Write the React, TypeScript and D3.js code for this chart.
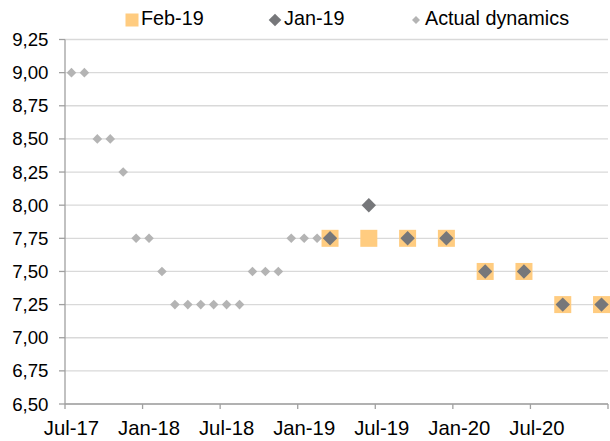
import React from "react";
import * as d3 from "d3";

const categories = [
  "Jul-17","Aug-17","Sep-17","Oct-17","Nov-17","Dec-17",
  "Jan-18","Feb-18","Mar-18","Apr-18","May-18","Jun-18",
  "Jul-18","Aug-18","Sep-18","Oct-18","Nov-18","Dec-18",
  "Jan-19","Feb-19","Mar-19","Apr-19","May-19","Jun-19",
  "Jul-19","Aug-19","Sep-19","Oct-19","Nov-19","Dec-19",
  "Jan-20","Feb-20","Mar-20","Apr-20","May-20","Jun-20",
  "Jul-20","Aug-20","Sep-20","Oct-20","Nov-20","Dec-20",
];
const xTickLabels = ["Jul-17","Jan-18","Jul-18","Jan-19","Jul-19","Jan-20","Jul-20"];

const actualMonths = [
  "Jul-17","Aug-17","Sep-17","Oct-17","Nov-17","Dec-17","Jan-18","Feb-18",
  "Mar-18","Apr-18","May-18","Jun-18","Jul-18","Aug-18","Sep-18","Oct-18",
  "Nov-18","Dec-18","Jan-19","Feb-19",
];
const actualValues = [
  9.0, 9.0, 8.5, 8.5, 8.25, 7.75, 7.75, 7.5,
  7.25, 7.25, 7.25, 7.25, 7.25, 7.25, 7.5, 7.5,
  7.5, 7.75, 7.75, 7.75,
];

const forecastMonths = ["Mar-19","Jun-19","Sep-19","Dec-19","Mar-20","Jun-20","Sep-20","Dec-20"];
const feb19Values = [7.75, 7.75, 7.75, 7.75, 7.5, 7.5, 7.25, 7.25];
const jan19Values = [7.75, 8.0, 7.75, 7.75, 7.5, 7.5, 7.25, 7.25];

const yTicks = [6.5, 6.75, 7.0, 7.25, 7.5, 7.75, 8.0, 8.25, 8.5, 8.75, 9.0, 9.25];

const W = 610, H = 441;
const left = 65, right = 608, top = 39.5, bottom = 404;
const FONT = "'Liberation Sans', Arial, sans-serif";
const C_SQ = "#FFCC80", C_DARK = "#76777A", C_LIGHT = "#B4B4B4";

const diamond = (cx: number, cy: number, r: number) =>
  `M${cx},${cy - r}L${cx + r},${cy}L${cx},${cy + r}L${cx - r},${cy}Z`;

export default function App() {
  const x = d3.scaleBand<string>().domain(categories).range([left, right]).padding(0);
  const y = d3.scaleLinear().domain([6.5, 9.25]).range([bottom, top]);
  const fmt = (v: number) => d3.format(".2f")(v).replace(".", ",");
  const cx = (m: string) => (x(m) as number) + x.bandwidth() / 2;
  const tickIdx = categories.map((_, i) => i).filter((i) => i % 6 === 0);

  return (
    <svg width={W} height={H} style={{ position: "absolute", left: 0, top: 0, background: "#fff" }} fontFamily={FONT}>
      {yTicks.map((t) => (
        <line key={"g" + t} x1={left} x2={right} y1={y(t)} y2={y(t)} stroke="#D9D9D9" strokeWidth={1.3} />
      ))}
      <line x1={left} x2={left} y1={top} y2={bottom} stroke="#A0A0A0" strokeWidth={1.3} />
      {yTicks.map((t) => (
        <g key={"y" + t}>
          <line x1={left - 6} x2={left} y1={y(t)} y2={y(t)} stroke="#A0A0A0" strokeWidth={1.3} />
          <text x={48.5} y={y(t)} dy="0.35em" textAnchor="end" fontSize={18.7} fill="#000">{fmt(t)}</text>
        </g>
      ))}
      <line x1={left} x2={right} y1={bottom} y2={bottom} stroke="#A0A0A0" strokeWidth={1.3} />
      {tickIdx.map((i) => (
        <line key={"xt" + i} x1={x(categories[i]) as number} x2={x(categories[i]) as number} y1={bottom} y2={bottom + 5} stroke="#A0A0A0" strokeWidth={1.3} />
      ))}
      <line x1={right} x2={right} y1={bottom} y2={bottom + 5} stroke="#A0A0A0" strokeWidth={1.3} />
      {xTickLabels.map((m) => (
        <text key={"xl" + m} x={cx(m)} y={435} textAnchor="middle" fontSize={20.3} fill="#000">{m}</text>
      ))}
      {forecastMonths.map((m, i) => (
        <rect key={"sq" + m} x={cx(m) - 8.5} y={y(feb19Values[i]) - 8.5} width={17} height={17} fill={C_SQ} />
      ))}
      {forecastMonths.map((m, i) => (
        <path key={"dk" + m} d={diamond(cx(m), y(jan19Values[i]), 7.2)} fill={C_DARK} />
      ))}
      {actualMonths.map((m, i) => (
        <path key={"ac" + m} d={diamond(cx(m), y(actualValues[i]), 4.8)} fill={C_LIGHT} />
      ))}
      <rect x={125.5} y={13.5} width={13} height={13} fill={C_SQ} />
      <text x={141} y={24.5} fontSize={19.8} fill="#000">Feb-19</text>
      <path d={diamond(275, 20, 6.3)} fill={C_DARK} />
      <text x={284} y={24.5} fontSize={19.8} fill="#000">Jan-19</text>
      <path d={diamond(416, 20, 4)} fill={C_LIGHT} />
      <text x={425} y={24.5} fontSize={19.8} fill="#000">Actual dynamics</text>
    </svg>
  );
}
